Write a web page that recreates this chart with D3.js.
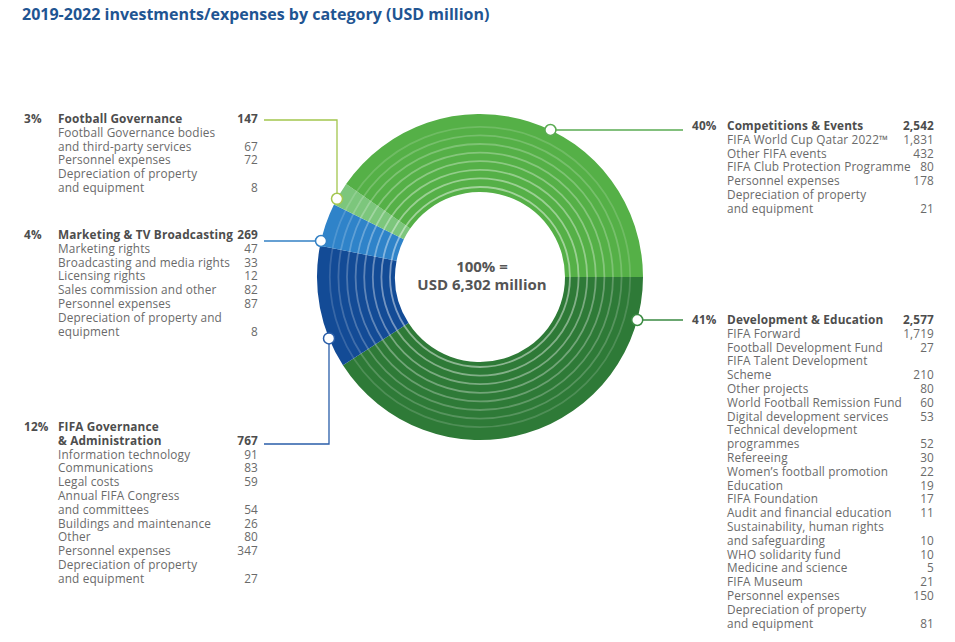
<!DOCTYPE html>
<html><head><meta charset="utf-8">
<script src="https://cdn.jsdelivr.net/npm/d3@7/dist/d3.min.js"></script>
<style>
body{margin:0;background:#fff;}
svg{display:block;font-family:"Open Sans",sans-serif;}
</style></head>
<body><svg id="chart" width="955" height="642"></svg>
<script>
// ---- DATA ----
const categories = ["Competitions & Events","Development & Education","FIFA Governance\n& Administration","Marketing & TV Broadcasting","Football Governance"];
const totals = [2542,2577,767,269,147];
const shares = ["40%","41%","12%","4%","3%"];
const grandTotal = 6302;

const competitionsItems = ["FIFA World Cup Qatar 2022™","Other FIFA events","FIFA Club Protection Programme","Personnel expenses","Depreciation of property\nand equipment"];
const competitionsValues = [1831,432,80,178,21];

const developmentItems = ["FIFA Forward","Football Development Fund","FIFA Talent Development\nScheme","Other projects","World Football Remission Fund","Digital development services","Technical development\nprogrammes","Refereeing","Women’s football promotion","Education","FIFA Foundation","Audit and financial education","Sustainability, human rights\nand safeguarding","WHO solidarity fund","Medicine and science","FIFA Museum","Personnel expenses","Depreciation of property\nand equipment"];
const developmentValues = [1719,27,210,80,60,53,52,30,22,19,17,11,10,10,5,21,150,81];

const fifaGovItems = ["Information technology","Communications","Legal costs","Annual FIFA Congress\nand committees","Buildings and maintenance","Other","Personnel expenses","Depreciation of property\nand equipment"];
const fifaGovValues = [91,83,59,54,26,80,347,27];

const marketingItems = ["Marketing rights","Broadcasting and media rights","Licensing rights","Sales commission and other","Personnel expenses","Depreciation of property and\nequipment"];
const marketingValues = [47,33,12,82,87,8];

const footballGovItems = ["Football Governance bodies\nand third-party services","Personnel expenses","Depreciation of property\nand equipment"];
const footballGovValues = [67,72,8];

// ---- LAYOUT / STYLE ----
const itemsBy = [competitionsItems,developmentItems,fifaGovItems,marketingItems,footballGovItems];
const valuesBy = [competitionsValues,developmentValues,fifaGovValues,marketingValues,footballGovValues];
const segColors = ["#55b047","#2e7a37","#134b96","#2f83c9","#7cc67c"];
const lineColors = ["#5aab52","#3a8a42","#2a5ea9","#3380c4","#a3c64e"];
const pieOrder = [1,2,3,4,0]; // clockwise from 3 o'clock

const W=955,H=642, cx=480, cy=277, rOut=163, rIn=85;
const LH=13.8, FS=11.8, LS=0.15;
const svg=d3.select("#chart");
const fmt=d3.format(",");

svg.append("text").attr("x",22).attr("y",20)
  .attr("font-size",16).attr("font-weight",700).attr("fill","#1f5592")
  .text("2019-2022 investments/expenses by category (USD million)");

// donut
const pie=d3.pie().sort(null).value(i=>totals[i]).startAngle(Math.PI/2).endAngle(Math.PI/2+2*Math.PI);
const arcs=pie(pieOrder);
const arc=d3.arc().innerRadius(rIn).outerRadius(rOut);
const g=svg.append("g").attr("transform",`translate(${cx},${cy})`);
g.selectAll("path.seg").data(arcs).join("path").attr("class","seg")
  .attr("d",arc).attr("fill",d=>segColors[d.data]);
// decorative rings
const ringR=d3.range(8).map(k=>90+k*8.6);
g.selectAll("circle.ring").data(ringR).join("circle").attr("class","ring")
  .attr("r",r=>r).attr("fill","none").attr("stroke","#fff")
  .attr("stroke-width",1.8)
  .attr("stroke-opacity",(r,i)=>0.45-i*0.042);

// centre text
svg.append("text").attr("x",cx+2).attr("y",cy-5).attr("text-anchor","middle")
  .attr("font-size",15).attr("font-weight",700).attr("fill","#555").text("100% =");
svg.append("text").attr("x",cx+2).attr("y",cy+13).attr("text-anchor","middle")
  .attr("font-size",15).attr("font-weight",700).attr("fill","#555").text("USD "+fmt(grandTotal)+" million");

// text blocks
const blocks=[
  {side:"R",top:126,lineY:130},
  {side:"R",top:320,lineY:320},
  {side:"L",top:427,lineY:444,vx:329},
  {side:"L",top:235,lineY:241},
  {side:"L",top:119,lineY:120,vx:337}
];
const colX={L:{pct:24,name:58,val:258,lineEnd:264},R:{pct:692,name:727,val:934,lineEnd:683}};

function txt(sel,x,y,t,bold,anchor){
  return sel.append("text").attr("x",x).attr("y",y).attr("font-size",FS)
    .attr("letter-spacing",LS)
    .attr("font-weight",bold?700:400).attr("fill",bold?"#4d4d4d":"#6a6a6a")
    .attr("text-anchor",anchor||"start").text(t);
}

blocks.forEach((b,i)=>{
  const c=colX[b.side];
  const tg=svg.append("g");
  const nameLines=categories[i].split("\n");
  let y=b.top+4;
  txt(tg,c.pct,y,shares[i],true);
  nameLines.forEach((t,k)=>txt(tg,c.name,y+k*LH,t,true));
  y+=(nameLines.length-1)*LH;
  txt(tg,c.val,y,fmt(totals[i]),true,"end");
  itemsBy[i].forEach((lab,j)=>{
    lab.split("\n").forEach(p=>{ y+=LH; txt(tg,c.name,y,p,false); });
    txt(tg,c.val,y,fmt(valuesBy[i][j]),false,"end");
  });

  // leader
  let dx,dy,pts;
  if(b.vx!==undefined){
    dx=b.vx-cx;
    const s=Math.sqrt(rOut*rOut-dx*dx);
    dy=(b.lineY<cy)?-s:s;
    pts=[[c.lineEnd,b.lineY],[b.vx,b.lineY],[b.vx,cy+dy]];
  } else {
    dy=b.lineY-cy;
    const s=Math.sqrt(rOut*rOut-dy*dy);
    dx=b.side==="R"?s:-s;
    pts=[[c.lineEnd,b.lineY],[cx+dx,b.lineY]];
  }
  svg.append("path").attr("d",d3.line()(pts)).attr("fill","none")
    .attr("stroke",lineColors[i]).attr("stroke-width",1.3);
  svg.append("circle").attr("cx",cx+dx).attr("cy",cy+dy).attr("r",5.5)
    .attr("fill","#fff").attr("stroke",lineColors[i]).attr("stroke-width",1.5);
});
</script></body></html>
